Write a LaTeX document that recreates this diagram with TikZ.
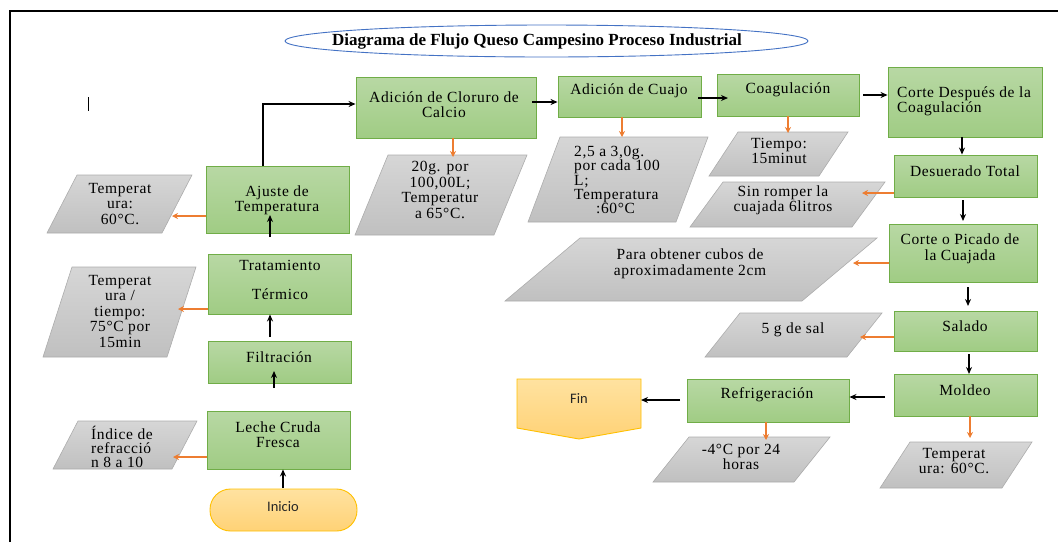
\documentclass[tikz,border=0pt]{standalone}
\usepackage{fontspec}
\setmainfont{Liberation Serif}[LetterSpace=4]
\newfontfamily\titlefont{Liberation Serif}
\newfontfamily\sansf{Carlito}
\usetikzlibrary{arrows.meta,fit,calc,shapes.geometric}
\definecolor{gborder}{RGB}{112,173,71}
\definecolor{gtop}{RGB}{184,216,164}
\definecolor{gbot}{RGB}{160,204,132}
\definecolor{ptop}{RGB}{214,214,214}
\definecolor{pbot}{RGB}{192,192,192}
\definecolor{pborder}{RGB}{172,172,172}
\definecolor{otop}{RGB}{255,226,160}
\definecolor{obot}{RGB}{255,210,118}
\definecolor{oborder}{RGB}{255,192,0}
\definecolor{oarrow}{RGB}{237,125,49}
\definecolor{tblue}{RGB}{68,114,196}
\newcommand\parab[5]{\path[gpar] (#1,#4) -- (#2,#4) -- (#2+#3-#1,#5) -- (#3,#5) -- cycle;}
\begin{document}
\begin{tikzpicture}[x=1pt,y=-1pt,
  gbox/.style={draw=gborder, line width=0.9pt, top color=gtop, bottom color=gbot, inner sep=0pt},
  gpar/.style={draw=pborder, line width=0.6pt, top color=ptop, bottom color=pbot},
  obox/.style={draw=oborder, line width=0.9pt, top color=otop, bottom color=obot, inner sep=0pt},
  arr/.style={-{Stealth[length=7pt,width=6pt]}, line width=1.8pt, black},
  oarr/.style={-{Stealth[length=6pt,width=6pt]}, line width=1.5pt, oarrow},
  txt/.style={font=\fontsize{15.5}{15.5}\selectfont, align=center, inner sep=0pt, text=black},
  stxt/.style={font=\sansf\fontsize{14.5}{15}\selectfont, inner sep=0pt, text=black!85}]
\useasboundingbox (0,0) rectangle (1058,542);
% frame
\draw[line width=1.6pt] (10,542) -- (10,11) -- (1058,11);
\draw[line width=0.8pt] (88,97) -- (88,111);
% title
\node[draw=tblue, line width=0.9pt, fill=white, ellipse, minimum width=523pt, minimum height=32pt, inner sep=0pt] (title) at (546.5,41) {};
\node[font=\titlefont\bfseries\fontsize{17}{18}\selectfont, inner sep=0pt] (ttitle) at (537,41) {Diagrama de Flujo Queso Campesino Proceso Industrial};
% green boxes
\node[gbox, fit={(206,166)(349,233)}] (ajuste) {};
\node[gbox, fit={(356,77)(536,138)}] (cloruro) {};
\node[gbox, fit={(558,76)(701,117)}] (cuajo) {};
\node[gbox, fit={(717,74)(859,116)}] (coag) {};
\node[gbox, fit={(888,67)(1042,137)}] (corted) {};
\node[gbox, fit={(894,155)(1037,197)}] (desu) {};
\node[gbox, fit={(889,224)(1037,282)}] (picado) {};
\node[gbox, fit={(894,311)(1037,351)}] (salado) {};
\node[gbox, fit={(894,374)(1037,416)}] (moldeo) {};
\node[gbox, fit={(687,379)(849,422)}] (refrig) {};
\node[gbox, fit={(208,254)(351,314)}] (trat) {};
\node[gbox, fit={(208,341)(351,383)}] (filt) {};
\node[gbox, fit={(207,411)(350,469)}] (leche) {};
% start / end
\node[obox, rounded corners=20.5pt, fit={(210,489)(357,531)}] (inicio) {};
\path[obox] (517,379) -- (641,379) -- (641,428) -- (579,439) -- (517,428) -- cycle;
\coordinate (fin) at (641,400);
% parallelograms
\parab{77}{192}{47}{175}{233}
\parab{72}{196}{43}{267}{357}
\parab{78}{197}{53}{421}{469}
\parab{388}{527}{355}{155}{235}
\parab{560}{708}{528}{137}{222}
\parab{738}{848}{709}{132}{176}
\parab{723}{885}{690}{182}{227}
\parab{580}{877}{505}{238}{301}
\parab{740}{882}{705}{313}{357}
\parab{910}{1032}{880}{442}{488}
\parab{689}{830}{653}{437}{482}
% texts
\node[txt] (t-ajuste) at (277,200.5) {Ajuste de\\Temperatura};
\node[txt] (t-cloruro) at (444,104.5) {Adición de Cloruro de\\Calcio};
\node[txt] (t-cuajo) at (629,91) {Adición de Cuajo};
\node[txt] (t-coag) at (788,90) {Coagulación};
\node[txt, align=left, anchor=west] (t-corted) at (897,101.5) {Corte Después de la\\Coagulación};
\node[txt] (t-desu) at (965,171) {Desuerado Total};
\node[txt] (t-picado) at (960,249) {Corte o Picado de\\la Cuajada};
\node[txt] (t-salado) at (965,326) {Salado};
\node[txt] (t-moldeo) at (965,390) {Moldeo};
\node[txt] (t-refrig) at (767,395) {Refrigeración};
\node[txt] (t-trat) at (280,279.5) {Tratamiento\\[13.5pt]Térmico};
\node[txt] (t-filt) at (279,357) {Filtración};
\node[txt] (t-leche) at (278,434.5) {Leche Cruda\\Fresca};
\node[stxt] (t-inicio) at (283,507) {Inicio};
\node[stxt] (t-fin) at (579,399) {Fin};
% parameter texts
\node[txt] (p-ajuste) at (120,204) {Temperat\\ura:\\60°C.};
\node[txt] (p-trat) at (120,311) {Temperat\\ura /\\tiempo:\\75°C por\\15min};
\node[txt, align=left, anchor=west, font=\fontsize{15.5}{14.2}\selectfont] (p-leche) at (91,447) {Índice de\\refracció\\n 8 a 10};
\node[txt] (p-cloruro) at (440,190) {20g. por\\100,00L;\\Temperatur\\a 65°C.};
\node[txt, align=left, anchor=west, font=\fontsize{15.5}{14.2}\selectfont] (p-cuajo) at (574,180) {2,5 a 3,0g.\\por cada 100\\L;\\Temperatura\\\hspace*{22pt}:60°C};
\node[txt, font=\fontsize{15.5}{14.2}\selectfont] (p-coag) at (779,151) {Tiempo:\\15minut};
\node[txt] (p-desu) at (783,200.5) {Sin romper la\\cuajada 6litros};
\node[txt] (p-picado) at (690,264) {Para obtener cubos de\\aproximadamente 2cm};
\node[txt] (p-salado) at (793,330) {5 g de sal};
\node[txt] (p-moldeo) at (954,461) {Temperat\\ura: 60°C.};
\node[txt] (p-refrig) at (741,457) {-4°C por 24\\horas};
% arrow end coordinates
\coordinate (c-ind) at (173,457);
\coordinate (c-tt) at (178,309);
\coordinate (c-ta) at (172,216);
\coordinate (c-20) at (453,157);
\coordinate (c-cu) at (622,137);
\coordinate (c-ti) at (788,133);
\coordinate (c-sr) at (862,193);
\coordinate (c-pa) at (853,263);
\coordinate (c-sa) at (860,337);
\coordinate (c-mo) at (970,438);
\coordinate (c-re) at (766,440);
% black connectors
\coordinate (a1s) at (283,488);
\draw[arr] (a1s) -- (a1s |- leche.south);
\coordinate (a2s) at (274,388);
\coordinate (a2e) at (274,371);
\draw[arr] (a2s) -- (a2e);
\coordinate (a3s) at (270,337);
\draw[arr] (a3s) -- (a3s |- trat.south);
\coordinate (a4s) at (270,237);
\coordinate (a4e) at (270,215);
\draw[arr] (a4s) -- (a4e);
\coordinate (a5) at (263,104);
\draw[arr] (a5 |- ajuste.north) -- (a5) -- (a5 -| cloruro.west);
\coordinate (a6) at (532,102);
\draw[arr] (a6) -- (a6 -| cuajo.west);
\coordinate (a7s) at (698,98);
\coordinate (a7e) at (728,98);
\draw[arr] (a7s) -- (a7e);
\coordinate (a8) at (863,95);
\draw[arr] (a8) -- (a8 -| corted.west);
\coordinate (a9) at (962,137);
\draw[arr] (a9) -- (a9 |- desu.north);
\coordinate (a10s) at (963,200);
\coordinate (a10e) at (963,221);
\draw[arr] (a10s) -- (a10e);
\coordinate (a11s) at (968,287);
\coordinate (a11e) at (968,306);
\draw[arr] (a11s) -- (a11e);
\coordinate (a12s) at (969,354);
\coordinate (a12e) at (969,374);
\draw[arr] (a12s) -- (a12e);
\coordinate (a13s) at (885,397);
\draw[arr] (a13s) -- (a13s -| refrig.east);
\coordinate (a14s) at (680,400);
\draw[arr] (a14s) -- (fin);
% orange connectors
\draw[oarr] (leche.west |- c-ind) -- (c-ind);
\draw[oarr] (trat.west |- c-tt) -- (c-tt);
\draw[oarr] (ajuste.west |- c-ta) -- (c-ta);
\draw[oarr] (cloruro.south -| c-20) -- (c-20);
\draw[oarr] (cuajo.south -| c-cu) -- (c-cu);
\draw[oarr] (coag.south -| c-ti) -- (c-ti);
\draw[oarr] (desu.west |- c-sr) -- (c-sr);
\draw[oarr] (picado.west |- c-pa) -- (c-pa);
\draw[oarr] (salado.west |- c-sa) -- (c-sa);
\draw[oarr] (moldeo.south -| c-mo) -- (c-mo);
\draw[oarr] (refrig.south -| c-re) -- (c-re);
\end{tikzpicture}
\end{document}
